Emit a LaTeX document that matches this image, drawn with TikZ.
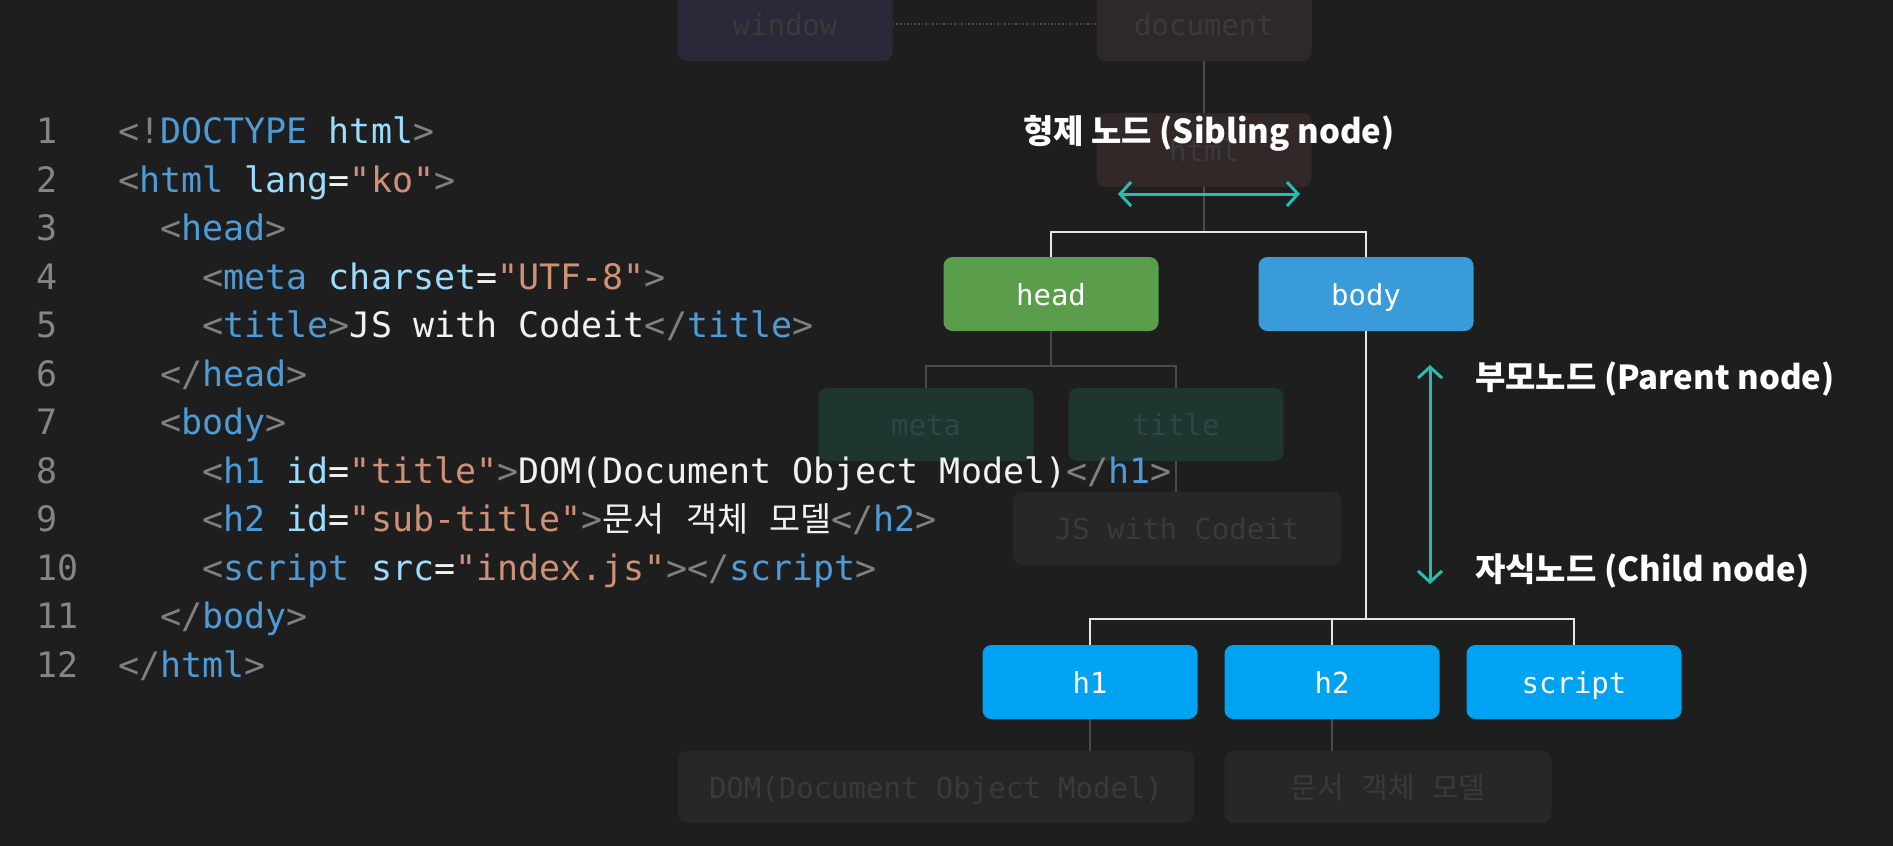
\documentclass[tikz,border=0pt]{standalone}
\usepackage{fontspec}
\setmonofont{DejaVu Sans Mono}
\newfontfamily\kr{Noto Sans CJK KR}
\usetikzlibrary{arrows.meta}
\definecolor{bg}{HTML}{1E1E1E}
\definecolor{lnum}{HTML}{858585}
\definecolor{cpunct}{HTML}{808080}
\definecolor{ctag}{HTML}{4E9BD6}
\definecolor{cattr}{HTML}{9CDCFE}
\definecolor{cstr}{HTML}{CE9178}
\definecolor{ctext}{HTML}{F2F2F2}
\definecolor{winfill}{HTML}{2A2939}
\definecolor{docfill}{HTML}{2F2829}
\definecolor{docfill2}{HTML}{332828}
\definecolor{tealfill}{HTML}{1E3530}
\definecolor{grayfill}{HTML}{272727}
\definecolor{fainttxt}{HTML}{3A3A3A}
\definecolor{faintteal}{HTML}{2C4842}
\definecolor{faintline}{HTML}{4A4A4A}
\definecolor{headgreen}{HTML}{5A9E4B}
\definecolor{bodyblue}{HTML}{3A9BDA}
\definecolor{hblue}{HTML}{00A3F2}
\definecolor{wline}{HTML}{E6E6E6}
\definecolor{teal}{HTML}{29BDB2}
\newcommand\Hp[1]{\textcolor{cpunct}{#1}}
\newcommand\Ht[1]{\textcolor{ctag}{#1}}
\newcommand\Ha[1]{\textcolor{cattr}{#1}}
\newcommand\Hs[1]{\textcolor{cstr}{#1}}
\newcommand\Hx[1]{\textcolor{ctext}{#1}}
\newcommand\Kc[1]{{\kr\fontsize{33.8}{40}\selectfont #1}}
\begin{document}
\begin{tikzpicture}[x=1pt,y=-1pt,
  dbox/.style={rounded corners=9pt, minimum width=215pt, minimum height=74pt, inner sep=0pt,
    font=\ttfamily\fontsize{29}{34}\selectfont, text height=22pt, text depth=0pt},
  fadedbox/.style={dbox, fill=#1, text=fainttxt},
  brightbox/.style={dbox, fill=#1, text=white},
  codeline/.style={anchor=base west, inner sep=0pt, font=\ttfamily\fontsize{35}{40}\selectfont},
  lnumber/.style={codeline, text=lnum},
  wconn/.style={draw=wline, line width=2.4pt},
  fconn/.style={draw=faintline, line width=1.4pt},
  tarrow/.style={draw=teal, line width=3pt, {Straight Barb[length=11pt,width=24pt]}-{Straight Barb[length=11pt,width=24pt]}},
  label/.style={inner sep=0pt, text=white, font=\kr\bfseries\fontsize{33}{40}\selectfont}
]
\useasboundingbox (0,0) rectangle (1893,846);
\fill[bg] (0,0) rectangle (1893,846);

% faded tree parts
\node[fadedbox=winfill] (window) at (785,24) {window};
\node[fadedbox=docfill] (document) at (1204,24) {document};
\node[fadedbox=docfill2] (html) at (1204,150) {html};
\node[fadedbox=tealfill, minimum height=73pt, text=faintteal] (meta) at (926,424.5) {meta};
\node[fadedbox=tealfill, minimum height=73pt, text=faintteal] (title) at (1176,424.5) {title};
\node[fadedbox=grayfill, minimum width=328pt, minimum height=73pt] (js) at (1177,528.5) {JS with Codeit};
\node[fadedbox=grayfill, minimum width=516pt, minimum height=72pt] (dom) at (936,787) {DOM(Document Object Model)};
\node[fadedbox=grayfill, minimum width=327pt, minimum height=72pt] (mun) at (1388,787) {{\kr 문서} {\kr 객체} {\kr 모델}};

\draw[draw=faintline, line width=1.6pt, dotted] (window.east) -- (document.west);
\draw[fconn] (document.south) -- (html.north);

% bright nodes
\node[brightbox=headgreen] (head) at (1051,294) {head};
\node[brightbox=bodyblue] (body) at (1366,294) {body};
\node[brightbox=hblue] (h1) at (1090,682) {h1};
\node[brightbox=hblue] (h2) at (1332,682) {h2};
\node[brightbox=hblue] (script) at (1574,682) {script};

% connectors
\coordinate (sibbar) at (1204,232);
\draw[fconn] (html.south) -- (sibbar);
\draw[wconn] (head.north) |- (sibbar) -| (body.north);
\coordinate (hbar) at (1051,366);
\draw[fconn] (head.south) -- (hbar);
\draw[fconn] (meta.north) |- (hbar) -| (title.north);
\draw[fconn] (title.south) -- (js.north -| title.south);
\coordinate (cbar) at (1366,619);
\draw[wconn] (body.south) -- (cbar);
\draw[wconn] (h1.north) |- (cbar) -| (script.north);
\draw[wconn] (h2.north) -- (h2.north |- cbar);
\draw[fconn] (h1.south) -- (h1.south |- dom.north);
\draw[fconn] (h2.south) -- (h2.south |- mun.north);

% labels and arrows
\node[label, anchor=base] (sib) at (1209,143) {형제 노드 (Sibling node)};
\coordinate (sibL) at (1118,194);
\coordinate (sibR) at (1300,194);
\draw[tarrow] (sibL) -- (sibR);
\coordinate (pcT) at (1430,365);
\coordinate (pcB) at (1430,584);
\draw[tarrow] (pcT) -- (pcB);
\node[label, anchor=base west] (par) at (1475,389) {부모노드 (Parent node)};
\node[label, anchor=base west] (chi) at (1475,581) {자식노드 (Child node)};

% code
\foreach \n [count=\i from 0] in {1,...,12} {
  \node[lnumber] (ln\n) at (36,143.5+\i*48.5) {\n};
}
\node[codeline] (c1) at (118,143.5) {\Hp{<!}\Ht{DOCTYPE} \Ha{html}\Hp{>}};
\node[codeline] (c2) at (118,192) {\Hp{<}\Ht{html} \Ha{lang}\Hx{=}\Hs{"ko"}\Hp{>}};
\node[codeline] (c3) at (160.14,240.5) {\Hp{<}\Ht{head}\Hp{>}};
\node[codeline] (c4) at (202.28,289) {\Hp{<}\Ht{meta} \Ha{charset}\Hx{=}\Hs{"UTF-8"}\Hp{>}};
\node[codeline] (c5) at (202.28,337.5) {\Hp{<}\Ht{title}\Hp{>}\Hx{JS with Codeit}\Hp{</}\Ht{title}\Hp{>}};
\node[codeline] (c6) at (160.14,386) {\Hp{</}\Ht{head}\Hp{>}};
\node[codeline] (c7) at (160.14,434.5) {\Hp{<}\Ht{body}\Hp{>}};
\node[codeline] (c8) at (202.28,483) {\Hp{<}\Ht{h1} \Ha{id}\Hx{=}\Hs{"title"}\Hp{>}\Hx{DOM(Document Object Model)}\Hp{</}\Ht{h1}\Hp{>}};
\node[codeline] (c9) at (202.28,531.5) {\Hp{<}\Ht{h2} \Ha{id}\Hx{=}\Hs{"sub-title"}\Hp{>}\Hx{\Kc{문서} \Kc{객체} \Kc{모델}}\Hp{</}\Ht{h2}\Hp{>}};
\node[codeline] (c10) at (202.28,580) {\Hp{<}\Ht{script} \Ha{src}\Hx{=}\Hs{"index.js"}\Hp{></}\Ht{script}\Hp{>}};
\node[codeline] (c11) at (160.14,628.5) {\Hp{</}\Ht{body}\Hp{>}};
\node[codeline] (c12) at (118,677) {\Hp{</}\Ht{html}\Hp{>}};
\end{tikzpicture}
\end{document}
